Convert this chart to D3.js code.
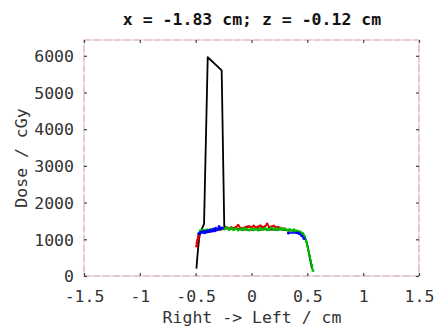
<!DOCTYPE html>
<html><head><meta charset="utf-8">
<script src="https://cdn.jsdelivr.net/npm/d3@7"></script>
<style>body{margin:0;background:#fff}text{font-family:"DejaVu Sans Mono",monospace}</style>
</head><body><svg id="c" width="435" height="336"></svg>
<script>
const titleText = "x = -1.83 cm; z = -0.12 cm";
const xLabel = "Right -> Left / cm";
const yLabel = "Dose / cGy";
const xTicks = [-1.5,-1,-0.5,0,0.5,1,1.5];
const xTickLabels = ["-1.5","-1","-0.5","0","0.5","1","1.5"];
const yTicks = [0,1000,2000,3000,4000,5000,6000];

const blackX = [-0.493,-0.485,-0.475,-0.465,-0.455,-0.443,-0.425,-0.392,-0.267,-0.244,-0.23,-0.2,-0.17,-0.14,-0.11,-0.08,-0.05,-0.02,0.01,0.04,0.07,0.1,0.13,0.16,0.19,0.22,0.25,0.28,0.31,0.34,0.37,0.4,0.43,0.455,0.475,0.49,0.505,0.515,0.525,0.535,0.542];
const blackY = [200,520,850,1100,1200,1290,1420,5960,5600,1360,1310,1290,1285,1275,1280,1260,1270,1255,1265,1275,1260,1270,1280,1265,1270,1260,1275,1255,1250,1240,1235,1220,1200,1160,1080,950,780,620,450,300,200];

const redX = [-0.492,-0.488,-0.484,-0.48,-0.476,-0.472,-0.468,-0.462,-0.455,-0.44,-0.42,-0.4,-0.38,-0.36,-0.34,-0.32,-0.3,-0.28,-0.26,-0.24,-0.22,-0.2,-0.18,-0.16,-0.14,-0.12,-0.1,-0.08,-0.06,-0.04,-0.02,0,0.02,0.04,0.06,0.08,0.1,0.12,0.14,0.16,0.18,0.2,0.22,0.24,0.26,0.28,0.3];
const redY = [820,900,960,1000,1060,1100,1140,1180,1200,1210,1220,1230,1215,1240,1230,1250,1260,1270,1290,1300,1310,1290,1320,1300,1330,1380,1310,1290,1320,1340,1350,1330,1360,1320,1340,1370,1330,1350,1420,1330,1340,1360,1320,1330,1300,1290,1280];

const greenX = [-0.475,-0.46,-0.44,-0.42,-0.4,-0.38,-0.36,-0.34,-0.32,-0.3,-0.28,-0.26,-0.24,-0.22,-0.2,-0.18,-0.16,-0.14,-0.12,-0.1,-0.08,-0.06,-0.04,-0.02,0,0.02,0.04,0.06,0.08,0.1,0.12,0.14,0.16,0.18,0.2,0.22,0.24,0.26,0.28,0.3,0.32,0.34,0.36,0.38,0.4,0.42,0.44,0.46,0.475,0.49,0.5,0.51,0.52,0.53,0.54,0.55];
const greenY = [1150,1230,1250,1240,1260,1250,1270,1260,1280,1270,1290,1300,1280,1320,1270,1300,1260,1290,1250,1280,1260,1300,1270,1250,1290,1260,1280,1250,1290,1270,1300,1260,1280,1310,1270,1290,1260,1300,1270,1280,1250,1270,1240,1260,1230,1220,1200,1160,1080,950,820,680,560,420,300,150];

const blueX = [-0.47,-0.46,-0.45,-0.44,-0.43,-0.42,-0.41,-0.4,-0.39,-0.38,-0.37,-0.36,-0.35,-0.34,-0.33,-0.32,-0.31,-0.3,-0.29,-0.28,-0.27,-0.26,null,0.33,0.41,0.43,0.45,0.47];
const blueY = [1150,1180,1200,1190,1210,1180,1220,1200,1230,1210,1250,1220,1240,1280,1230,1300,1260,1280,1350,1290,1300,1310,null,1170,1180,1150,1100,1020];

const svg = d3.select("#c");
const x = d3.scaleLinear().domain([-1.5,1.5]).range([84,419]);
const y = d3.scaleLinear().domain([0,6430]).range([276,40]);
const textCol = "#333";

// frame
const frame = svg.append("g");
frame.append("rect").attr("x",84).attr("y",40).attr("width",335).attr("height",236)
  .attr("fill","none").attr("stroke","#c9d6e0").attr("stroke-width",1);
frame.append("rect").attr("x",84).attr("y",40).attr("width",335).attr("height",236)
  .attr("fill","none").attr("stroke","#f2a8a8").attr("stroke-width",1).attr("stroke-dasharray","7,3");

// ticks via axes
const tickFmt = (d,i)=>xTickLabels[i];
const axB = svg.append("g").attr("transform","translate(0,276)")
  .call(d3.axisBottom(x).tickValues(xTicks).tickFormat((d,i)=>xTickLabels[i]).tickSizeInner(-3).tickSizeOuter(0).tickPadding(14));
const axT = svg.append("g").attr("transform","translate(0,40)")
  .call(d3.axisTop(x).tickValues(xTicks).tickFormat("").tickSizeInner(-3).tickSizeOuter(0));
const axL = svg.append("g").attr("transform","translate(84,0)")
  .call(d3.axisLeft(y).tickValues(yTicks).tickFormat(d3.format("d")).tickSizeInner(-3).tickSizeOuter(0).tickPadding(10));
const axR = svg.append("g").attr("transform","translate(419,0)")
  .call(d3.axisRight(y).tickValues(yTicks).tickFormat("").tickSizeInner(-3).tickSizeOuter(0));
[axB,axT,axL,axR].forEach(a=>{
  a.select(".domain").remove();
  a.selectAll(".tick line").attr("stroke","#444").attr("stroke-width",1.2);
  a.selectAll(".tick text").attr("fill",textCol).style("font-size","16.5px").style("font-family","DejaVu Sans Mono");
});
axL.selectAll(".tick text").attr("dy","0.35em");

// series
function series(xs, ys, color, w, r){
  const pts = xs.map((v,i)=>[v,ys[i]]);
  const line = d3.line().defined(d=>d[0]!==null).x(d=>x(d[0])).y(d=>y(d[1]));
  svg.append("path").datum(pts).attr("d",line).attr("fill","none").attr("stroke",color)
    .attr("stroke-width",w).attr("stroke-linejoin","round");
  if (r>0) svg.append("g").selectAll("circle").data(pts.filter(d=>d[0]!==null)).join("circle")
    .attr("cx",d=>x(d[0])).attr("cy",d=>y(d[1])).attr("r",r).attr("fill",color);
}
series(blackX, blackY, "#000", 1.8, 0);
series(redX, redY, "#e00000", 1.6, 1.5);
series(greenX, greenY, "#00c000", 1.6, 1.5);
series(blueX, blueY, "#0000ff", 1.6, 1.5);

// texts
svg.append("text").attr("x",252).attr("y",25).attr("text-anchor","middle")
  .style("font-size","16.5px").style("font-weight","bold").attr("fill","#111").text(titleText);
svg.append("text").attr("x",252).attr("y",323).attr("text-anchor","middle")
  .style("font-size","16.5px").attr("fill",textCol).text(xLabel);
svg.append("text").attr("transform","translate(27,158) rotate(-90)").attr("text-anchor","middle")
  .style("font-size","16.5px").attr("fill",textCol).text(yLabel);
</script></body></html>
